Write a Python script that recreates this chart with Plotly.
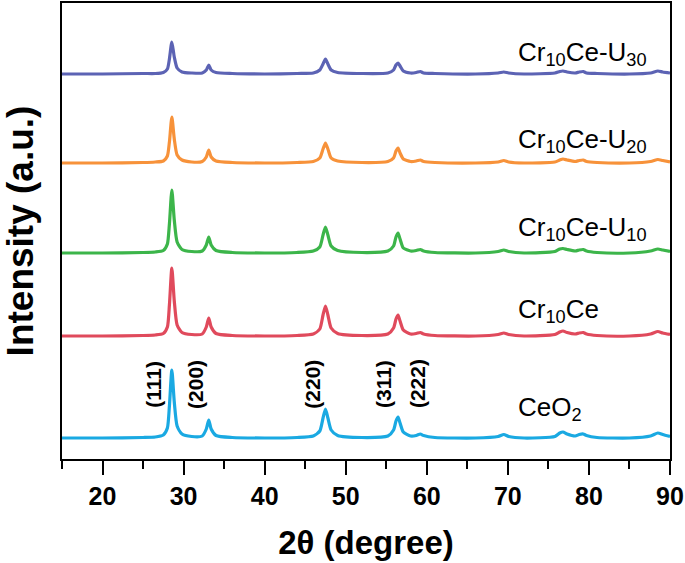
import plotly.graph_objects as go

# 2theta grid (deg) and peak intensities (a.u., above each baseline)
two_theta = [15, 20, 25, 26.5, 27.5, 28.0, 28.25, 28.55, 28.85, 29.2,
             29.8, 31, 32.3, 32.8, 33.1, 33.4, 34, 36, 40, 44,
             46, 46.8, 47.2, 47.5, 47.8, 48.2, 49, 52, 55.2, 55.9,
             56.2, 56.45, 56.7, 57.1, 58, 58.7, 59.2, 59.6, 61, 66,
             68.8, 69.5, 70.1, 72, 75.8, 76.4, 76.8, 77.3, 78.3, 78.8,
             79.3, 79.7, 81, 85, 87.6, 88.5, 89.1, 90]

ceo2 = [0, 0, 0.5, 1, 3, 10, 32, 68, 36, 12,
        4, 1.5, 2, 9, 18, 9, 2.5, 0.5, 0, 0.5,
        2, 7, 20, 29, 20, 8, 2.5, 0.5, 2, 8,
        17, 21, 15, 6, 2, 2.5, 4, 2.5, 0.5, 0,
        1.5, 3.5, 1.5, 0, 1.5, 5, 6, 4, 2, 3.5,
        4, 2.5, 0.5, 0, 2, 5, 3.5, 1.5]
cr10ce = [0, 0, 0.5, 1, 2.5, 9, 31, 68, 35, 11,
          3.5, 1.5, 2, 9, 18, 9, 2.5, 0.5, 0, 0.5,
          2, 7, 21, 30, 21, 8, 2.5, 0.5, 2, 8,
          17, 21, 15, 6, 2, 2.5, 3.5, 2, 0.5, 0,
          1.5, 3, 1.5, 0, 1.5, 4, 5, 3.5, 2, 3,
          3.5, 2, 0.5, 0, 2, 4.5, 3, 1.5]
cr10ce_u10 = [0, 0, 0.5, 1, 2.5, 9, 29, 63, 33, 11,
              3.5, 1.5, 2, 8, 16, 8, 2.5, 0.5, 0, 0.5,
              2, 6, 18, 26, 18, 7, 2.5, 0.5, 2, 7,
              16, 20, 14, 5, 2, 2.5, 3.5, 2, 0.5, 0,
              1.5, 3, 1.5, 0, 1.5, 4, 4.5, 3.5, 2, 3,
              3.5, 2, 0.5, 0, 2, 4, 3, 1.5]
cr10ce_u20 = [0, 0, 0.5, 1, 2, 7, 21, 46, 24, 8,
              3, 1, 1.5, 6, 13, 6, 2, 0.5, 0, 0.5,
              1.5, 5, 14, 20, 14, 5, 2, 0.5, 1.5, 5,
              12, 15, 10, 4, 1.5, 2, 3, 1.5, 0.5, 0,
              1, 2.5, 1, 0, 1, 3, 4, 3, 1.5, 2.5,
              3, 1.5, 0.5, 0, 1.5, 3.5, 2.5, 1]
cr10ce_u30 = [0, 0, 0.5, 0.5, 1.5, 5, 15, 32, 17, 6,
              2, 1, 1, 4, 9, 4, 1.5, 0.5, 0, 0.5,
              1, 4, 10, 15, 10, 4, 1.5, 0.5, 1, 4,
              9, 11, 8, 3, 1, 1.5, 2.5, 1, 0.5, 0,
              1, 2, 1, 0, 1, 2.5, 3, 2, 1, 2,
              2.5, 1, 0.5, 0, 1, 3, 2, 1]

series = [ceo2, cr10ce, cr10ce_u10, cr10ce_u20, cr10ce_u30]
labels = ["CeO<sub>2</sub>", "Cr<sub>10</sub>Ce", "Cr<sub>10</sub>Ce-U<sub>10</sub>",
          "Cr<sub>10</sub>Ce-U<sub>20</sub>", "Cr<sub>10</sub>Ce-U<sub>30</sub>"]
offsets = [21, 123, 206, 296, 385]
colors = ["#1aa9e2", "#e04a5c", "#3cb54a", "#f7923a", "#5c63b4"]
label_y = [51, 149, 231, 319, 406]

hkl = ["(111)", "(200)", "(220)", "(311)", "(222)"]
hkl_x = [26.2, 31.4, 45.8, 54.6, 58.8]

fig = go.Figure()
for ys, off, col in zip(series, offsets, colors):
    fig.add_trace(go.Scatter(x=two_theta, y=[v + off for v in ys], mode='lines',
                             line=dict(color=col, width=3.2, shape='spline', smoothing=0.6),
                             showlegend=False, hoverinfo='skip'))

for lab, ly in zip(labels, label_y):
    fig.add_annotation(x=71.0, y=ly, text=lab, showarrow=False, xanchor='left', yanchor='middle',
                       font=dict(family='Liberation Sans, Arial', size=26, color='black'))

for t, hx in zip(hkl, hkl_x):
    fig.add_annotation(x=hx, y=75, text='<b>' + t + '</b>', showarrow=False, textangle=-90,
                       font=dict(family='Liberation Sans, Arial', size=21, color='black'))

font = 'Liberation Sans, Arial'
fig.update_layout(
    width=685, height=563,
    margin=dict(l=62, r=15, t=3, b=104),
    plot_bgcolor='white', paper_bgcolor='white',
    xaxis=dict(range=[15, 90], tick0=0, dtick=10, ticks='outside', ticklen=14, tickwidth=2,
               tickcolor='black', showline=True, linewidth=2, linecolor='black', mirror=True,
               showgrid=False, zeroline=False, automargin=False, ticklabeloverflow='allow',
               tickfont=dict(family=font, size=25, color='black', weight='bold'),
               minor=dict(dtick=5, ticks='outside', ticklen=8, tickwidth=2, tickcolor='black'),
               title=dict(text='<b>2θ (degree)</b>', standoff=22,
                          font=dict(family=font, size=33, color='black'))),
    yaxis=dict(range=[0, 456], showticklabels=False, ticks='', showline=True, linewidth=2,
               linecolor='black', mirror=True, showgrid=False, zeroline=False, automargin=False,
               title=dict(text='<b>Intensity (a.u.)</b>', standoff=27,
                          font=dict(family=font, size=37, color='black'))),
)

fig.write_html("out.html", config={'displayModeBar': False},
               post_script="document.body.style.margin='0';")
